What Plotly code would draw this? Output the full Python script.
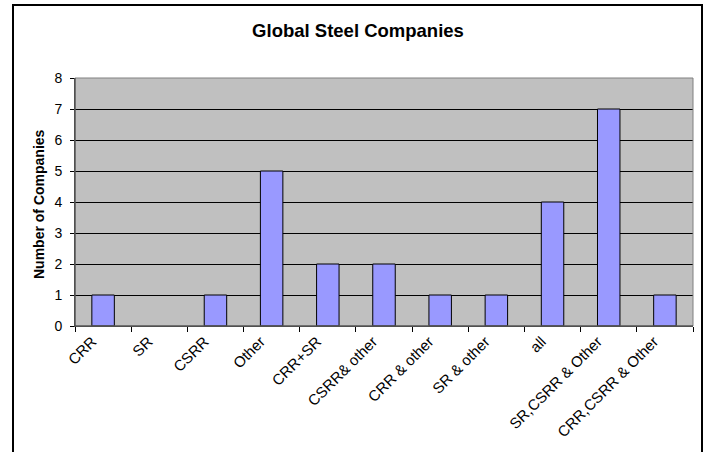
import plotly.graph_objects as go

categories = ["CRR", "SR", "CSRR", "Other", "CRR+SR", "CSRR& other", "CRR & other",
              "SR & other", "all", "SR,CSRR & Other", "CRR,CSRR & Other"]
companies = [1, None, 1, 5, 2, 2, 1, 1, 4, 7, 1]
y_ticks = [0, 1, 2, 3, 4, 5, 6, 7, 8]

FONT = "Liberation Sans, Arial, sans-serif"

fig = go.Figure()
fig.add_trace(go.Bar(
    x=categories, y=companies,
    marker=dict(color="#9999FF", line=dict(color="#000000", width=1)),
    hoverinfo="x+y",
))

L, R, T, B = 75, 14, 78, 126
W, H = 707, 452
pw, ph = W - L - R, H - T - B

def px(x):
    return (x - L) / pw

def py(y):
    return (H - B - y) / ph

fig.update_layout(
    width=W, height=H,
    margin=dict(l=L, r=R, t=T, b=B),
    paper_bgcolor="white",
    plot_bgcolor="#C0C0C0",
    bargap=0.6,
    showlegend=False,
    font=dict(family=FONT, color="black", size=13),
    title=dict(text="<b>Global Steel Companies</b>", x=px(358), xanchor="center",
               xref="paper", y=1 - 31 / H, yanchor="middle",
               font=dict(family=FONT, size=18.5, color="black")),
    xaxis=dict(
        type="category", tickangle=-45, tickson="boundaries",
        ticks="outside", ticklen=5, tickcolor="black",
        showline=True, linecolor="#404040", linewidth=1,
        showgrid=False, tickfont=dict(size=15), ticklabelshift=-11,
    ),
    yaxis=dict(
        range=[0, 8], tickvals=y_ticks, ticks="outside", ticklen=4, tickcolor="black",
        showline=True, linecolor="#404040", linewidth=1,
        showgrid=True, gridcolor="black", gridwidth=1,
        zeroline=False, tickfont=dict(size=14), ticklabelstandoff=5,
    ),
    annotations=[
        dict(text="<b>Number of Companies</b>", xref="paper", yref="paper",
             x=px(39), y=py(204), textangle=-90, showarrow=False,
             xanchor="center", yanchor="middle", font=dict(size=14)),
    ],
    shapes=[
        dict(type="rect", xref="paper", yref="paper", x0=0, x1=1, y0=0, y1=1,
             line=dict(color="#808080", width=1), layer="above"),
        dict(type="line", xref="paper", yref="paper", x0=0, x1=0, y0=0, y1=1,
             line=dict(color="#404040", width=1), layer="above"),
        dict(type="line", xref="paper", yref="paper", x0=0, x1=1, y0=0, y1=0,
             line=dict(color="#404040", width=1), layer="above"),
        dict(type="rect", xref="paper", yref="paper",
             x0=px(13), x1=px(702), y0=py(5), y1=py(470),
             line=dict(color="black", width=2), layer="below"),
    ],
)

fig.write_html("out.html")
